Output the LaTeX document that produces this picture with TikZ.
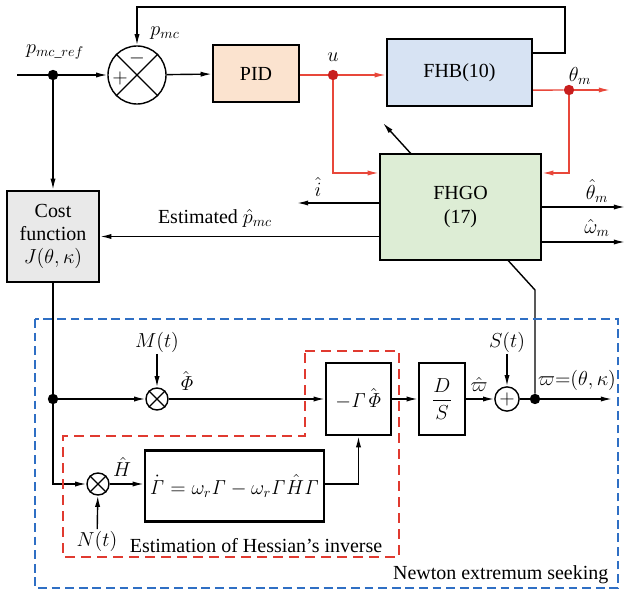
\documentclass[tikz,border=0pt]{standalone}
\usepackage{amsmath}
\usepackage[no-math]{fontspec}
\setmainfont{Liberation Serif}
\usetikzlibrary{arrows.meta,backgrounds}
\definecolor{pidfill}{HTML}{FBE3CF}
\definecolor{fhbfill}{HTML}{D7E3F3}
\definecolor{fhgofill}{HTML}{DDEDD5}
\definecolor{costfill}{HTML}{E9E9E9}
\definecolor{sigred}{HTML}{E8473A}
\definecolor{dotred}{HTML}{C81E1E}
\definecolor{esblue}{HTML}{2F6FC4}
\definecolor{hesred}{HTML}{E03A30}

\begin{document}
\begin{tikzpicture}[x=0.025cm, y=-0.025cm,
  box/.style={draw, line width=1.7pt, align=center, font=\fontsize{14.2}{16.5}\selectfont, inner sep=2pt},
  lbl/.style={font=\fontsize{14.2}{16.5}\selectfont, inner sep=1pt},
  arr/.style={-{Latex[length=2.8mm, width=1.3mm]}, line width=1pt},
  wire/.style={line width=1pt},
  junc/.style={circle, fill, inner sep=0pt, minimum size=0.26cm},
  mult/.style={circle, draw, line width=1pt, inner sep=0pt, minimum size=0.55cm}
]
\useasboundingbox (0,0) rectangle (626,591);

% plant and observer
\node[box, fill=pidfill, minimum width=2.15cm, minimum height=1.425cm] (pid) at (256,73.5) {PID};
\node[box, fill=fhbfill, minimum width=3.625cm, minimum height=1.675cm] (fhb) at (459.5,72.5) {FHB(10)};
\node[box, fill=fhgofill, minimum width=4.025cm, minimum height=2.65cm] (fhgo) at (460.5,207) {FHGO\\(17)};
\node[box, fill=costfill, minimum width=2.3cm, minimum height=2.275cm] (cost) at (53,236.5) {Cost\\function\\$J(\theta,\kappa)$};

\node[circle, draw, line width=1pt, minimum size=1.45cm, inner sep=0pt] (sum) at (137,75) {};
\draw[wire] (sum.north west) -- (sum.south east) (sum.north east) -- (sum.south west);
\node[lbl] at (120,78) {$+$};
\node[lbl] at (137,58) {$-$};

\coordinate (refin) at (17,75);
\node[junc] (refdot) at (53,75) {};
\node[lbl] at (55,52) {$p_{mc\_ref}$};
\node[lbl] at (165,33) {$p_{mc}$};
\coordinate (fbtop) at (565,7);
\draw[wire] (refin) -- (refdot);
\draw[arr] (refdot) -- (sum);
\draw[arr] (sum) -- (pid);
\draw[arr] (refdot) -- (cost);
\draw[arr] ([yshift=0.49cm]fhb.east) -| (fbtop) -| (sum.north);

% red signals
\node[junc, fill=dotred] (udot) at (333,75) {};
\node[lbl] at (333,57) {$u$};
\draw[wire, sigred] (pid.east |- udot) -- (udot);
\draw[arr, sigred] (udot) -- (fhb.west |- udot);
\draw[arr, sigred] (udot) |- ([yshift=0.85cm]fhgo.west);

\coordinate (thout) at ([yshift=-0.44cm]fhb.east);
\node[junc, fill=dotred] (thdot) at (569,90) {};
\coordinate (thend) at (610,90);
\draw[wire, sigred] (thout) -- (thdot);
\draw[arr, sigred] (thdot) -- (thend);
\draw[arr, sigred] (thdot) |- ([yshift=0.85cm]fhgo.east);
\node[lbl] at (580,76) {$\theta_m$};

% observer outputs
\coordinate (iend) at (297,203);
\draw[arr] (fhgo.west |- iend) -- (iend);
\node[lbl] at (318,187) {$\hat{i}$};
\draw[arr] (fhgo.west |- cost.east) -- (cost.east);
\node[lbl] at (215,218) {Estimated $\hat{p}_{mc}$};
\coordinate (thhat) at (625,207);
\draw[arr] (fhgo.east |- thhat) -- (thhat);
\node[lbl] at (597,191) {$\hat{\theta}_m$};
\coordinate (omhat) at (625,242);
\draw[arr] (fhgo.east |- omhat) -- (omhat);
\node[lbl] at (597,228) {$\hat{\omega}_m$};

% extremum seeking
\node[junc] (ldot) at (53,399) {};
\node[mult] (mm) at (157,399) {};
\draw[wire] (mm.north west) -- (mm.south east) (mm.north east) -- (mm.south west);
\node[mult] (nm) at (98,484) {};
\draw[wire] (nm.north west) -- (nm.south east) (nm.north east) -- (nm.south west);
\draw[wire] (cost) -- (ldot);
\draw[arr] (ldot) |- (nm);
\draw[arr] (ldot) -- (mm);
\node[lbl] (mlbl) at (157,342) {$M(t)$};
\draw[arr] (mlbl) -- (mm);
\node[lbl] (nlbl) at (97,541) {$N(t)$};
\draw[arr] (nlbl) -- (nm);

\node[box, minimum width=1.625cm, minimum height=1.8cm] (gphi) at (358.5,399) {$-\mathit{\Gamma}\hat{\mathit{\Phi}}$};
\node[box, minimum width=1.15cm, minimum height=1.8cm] (ds) at (442,399) {$\dfrac{D}{S}$};
\node[mult, lbl] (plus) at (507,399) {$+$};
\node[junc] (wdot) at (535,399) {};
\coordinate (wend) at (612,399);
\draw[arr] (mm) -- (gphi);
\node[lbl] at (186,381) {$\hat{\mathit{\Phi}}$};
\draw[arr] (gphi) -- (ds);
\draw[arr] (ds) -- (plus);
\node[lbl] at (479,384) {$\hat{\varpi}$};
\node[lbl] (slbl) at (507,342) {$S(t)$};
\draw[arr] (slbl) -- (plus);
\draw[wire] (plus) -- (wdot);
\draw[arr] (wdot) -- (wend);
\node[lbl] at (577,380) {$\varpi{=}(\theta,\kappa)$};

\node[box, minimum width=4.475cm, minimum height=1.775cm] (gam) at (234.5,486) {$\dot{\mathit{\Gamma}}= \omega_r\mathit{\Gamma}-\omega_r\mathit{\Gamma}\hat{H}\mathit{\Gamma}$};
\draw[arr] (nm) -- (gam.west |- nm);
\node[lbl] at (122,467) {$\hat{H}$};
\draw[arr] (gam.east |- nm) -| (gphi);

% tuning arrow through the observer
\coordinate (kink) at (535,290);
\coordinate (tune) at (383,123);
\begin{scope}[on background layer]
\draw[arr] (wdot) -- (kink) -- (tune);
\end{scope}

% dashed regions
\draw[hesred, line width=1.4pt, dash pattern=on 0.25cm off 0.15cm] (305,351) -- (399,351) -- (399,557) -- (63,557) -- (63,436) -- (305,436) -- cycle;
\node[lbl] at (256,546) {Estimation of Hessian’s inverse};
\draw[esblue, line width=1.4pt, dash pattern=on 0.22cm off 0.12cm] (35,319) rectangle (618,588);
\node[lbl, anchor=east] at (610,575) {Newton extremum seeking};
\end{tikzpicture}
\end{document}
